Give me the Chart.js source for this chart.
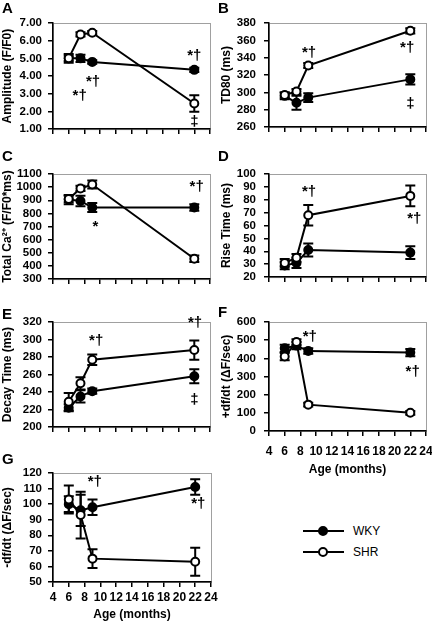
<!DOCTYPE html>
<html>
<head>
<meta charset="utf-8">
<script src="https://cdn.jsdelivr.net/npm/chart.js@4"></script>
<style>
  body { margin: 0; background: #fff; width: 432px; height: 622px; position: relative; overflow: hidden;
         font-family: Arial, "Liberation Sans", sans-serif; }
  canvas { position: absolute; }
  .letter { position: absolute; font-weight: bold; font-size: 15px; line-height: 15px; color: #000; }
  .key { position: absolute; left: 303px; width: 41px; height: 2px; background: #000; }
  .dot { position: absolute; left: 15px; top: -4px; width: 6px; height: 6px; border: 2px solid #000; border-radius: 50%; }
  .keytext { position: absolute; left: 353px; font-size: 12px; line-height: 14px; }
</style>
</head>
<body>
<canvas id="chartA" width="216" height="142" style="left:0;top:0"></canvas>
<canvas id="chartB" width="216" height="142" style="left:216px;top:0"></canvas>
<canvas id="chartC" width="216" height="142" style="left:0;top:150px"></canvas>
<canvas id="chartD" width="216" height="142" style="left:216px;top:150px"></canvas>
<canvas id="chartE" width="216" height="142" style="left:0;top:298px"></canvas>
<canvas id="chartF" width="216" height="182" style="left:216px;top:298px"></canvas>
<canvas id="chartG" width="240" height="173" style="left:0;top:449px"></canvas>

<div class="letter" style="left:2px;top:0">A</div>
<div class="letter" style="left:218px;top:0">B</div>
<div class="letter" style="left:2px;top:148px">C</div>
<div class="letter" style="left:218px;top:148px">D</div>
<div class="letter" style="left:2px;top:306px">E</div>
<div class="letter" style="left:218px;top:304px">F</div>
<div class="letter" style="left:2px;top:451px">G</div>

<div class="key" style="top:530px"><div class="dot" style="background:#000"></div></div>
<div class="keytext" style="top:524px">WKY</div>
<div class="key" style="top:551px"><div class="dot" style="background:#fff"></div></div>
<div class="keytext" style="top:545px">SHR</div>

<script>
const ages = [6, 7.5, 9, 22];

// A: amplitude
const wkyAmplitude = [5.0, 5.0, 4.8, 4.35];
const wkyAmplitudeErr = [0.25, 0.2, 0.1, 0.12];
const shrAmplitude = [5.0, 6.35, 6.45, 2.45];
const shrAmplitudeErr = [0.15, 0.12, 0.1, 0.47];

// B: TD80
const wkyTd80 = [296, 288, 294, 315];
const wkyTd80Err = [4, 8, 5, 6];
const shrTd80 = [297, 301, 331, 371];
const shrTd80Err = [3, 3, 3, 3];

// C: total Ca2+
const wkyTotalCa = [905, 895, 845, 845];
const wkyTotalCaErr = [35, 40, 35, 25];
const shrTotalCa = [910, 990, 1020, 455];
const shrTotalCaErr = [25, 20, 30, 25];

// D: rise time
const wkyRise = [29, 31, 41, 39];
const wkyRiseErr = [3, 4, 5, 5];
const shrRise = [31, 35, 68, 83];
const shrRiseErr = [3, 3, 8, 8];

// E: decay time
const wkyDecay = [222, 235, 241, 258];
const wkyDecayErr = [4, 7, 3, 8];
const shrDecay = [229, 250, 277, 288];
const shrDecayErr = [10, 7, 6, 11];

// F: +df/dt
const wkyUpRate = [455, 470, 440, 432];
const wkyUpRateErr = [20, 20, 15, 20];
const shrUpRate = [410, 490, 145, 100];
const shrUpRateErr = [20, 15, 10, 10];

// G: -df/dt
const wkyDownRate = [100, 96, 98, 111];
const wkyDownRateErr = [5, 10, 5, 5];
const shrDownRate = [103, 93, 65, 63];
const shrDownRateErr = [9, 15, 6, 9];

// significance marks (data units)
const notesA = [{x: 22, y: 5.13, t: "*†"}, {x: 9.1, y: 3.66, t: "*†"}, {x: 7.4, y: 2.87, t: "*†"}, {x: 22, y: 1.4, t: "‡"}];
const notesB = [{x: 9.1, y: 346, t: "*†"}, {x: 21.6, y: 351, t: "*†"}, {x: 22, y: 287, t: "‡"}];
const notesC = [{x: 9.4, y: 700, t: "*"}, {x: 22.3, y: 1004, t: "*†"}];
const notesD = [{x: 9.1, y: 86, t: "*†"}, {x: 22.5, y: 65, t: "*†"}];
const notesE = [{x: 9.5, y: 299, t: "*†"}, {x: 22.1, y: 319, t: "*†"}, {x: 22, y: 231, t: "‡"}];
const notesF = [{x: 9.2, y: 518, t: "*†"}, {x: 22.3, y: 326, t: "*†"}];
const notesG = [{x: 9.3, y: 114, t: "*†"}, {x: 22.4, y: 100, t: "*†"}];

const FONT = "Arial, 'Liberation Sans', sans-serif";

function points(ys) {
  return ys.map(function(y, i) { return {x: ages[i], y: y}; });
}

const framePlugin = {
  id: "frame",
  beforeDraw(chart) {
    const a = chart.chartArea;
    const ctx = chart.ctx;
    ctx.save();
    ctx.strokeStyle = "#a0a0a0";
    ctx.lineWidth = 1;
    ctx.strokeRect(a.left + 0.5, a.top + 0.5, a.right - a.left, a.bottom - a.top);
    ctx.restore();
  }
};

const errorBarPlugin = {
  id: "errorBars",
  beforeDatasetsDraw(chart) {
    const ctx = chart.ctx;
    const xs = chart.scales.x, ys = chart.scales.y;
    ctx.save();
    ctx.strokeStyle = "#000";
    ctx.lineWidth = 2;
    chart.data.datasets.forEach(function(ds) {
      ds.data.forEach(function(pt, i) {
        const err = ds.errors[i];
        const px = xs.getPixelForValue(pt.x);
        const top = ys.getPixelForValue(pt.y + err);
        const bot = ys.getPixelForValue(pt.y - err);
        ctx.beginPath();
        ctx.moveTo(px, top); ctx.lineTo(px, bot);
        ctx.moveTo(px - 5, top); ctx.lineTo(px + 5, top);
        ctx.moveTo(px - 5, bot); ctx.lineTo(px + 5, bot);
        ctx.stroke();
      });
    });
    ctx.restore();
  }
};

function notesPlugin(notes) {
  return {
    id: "notes",
    afterDatasetsDraw(chart) {
      const ctx = chart.ctx;
      ctx.save();
      ctx.fillStyle = "#000";
      ctx.font = "bold 15px " + FONT;
      ctx.textAlign = "center";
      ctx.textBaseline = "middle";
      notes.forEach(function(n) {
        ctx.fillText(n.t, chart.scales.x.getPixelForValue(n.x), chart.scales.y.getPixelForValue(n.y));
      });
      ctx.restore();
    }
  };
}

function makePanel(id, p) {
  new Chart(document.getElementById(id), {
    type: "scatter",
    data: {
      datasets: [
        {
          label: "SHR", data: points(p.shr), errors: p.shrErr, showLine: true,
          borderColor: "#000", borderWidth: 2, pointRadius: 4, pointBorderWidth: 2,
          pointBackgroundColor: "#fff", pointBorderColor: "#000"
        },
        {
          label: "WKY", data: points(p.wky), errors: p.wkyErr, showLine: true,
          borderColor: "#000", borderWidth: 2, pointRadius: 4, pointBorderWidth: 2,
          pointBackgroundColor: "#000", pointBorderColor: "#000"
        }
      ]
    },
    options: {
      responsive: false,
      animation: false,
      layout: { padding: { top: p.padTop, right: p.padRight, left: 0, bottom: 0 } },
      plugins: { legend: { display: false }, tooltip: { enabled: false } },
      scales: {
        x: {
          type: "linear", min: 4, max: 24,
          ticks: {
            stepSize: 2, display: p.showX, color: "#000", padding: p.xLabelPad || 0,
            maxRotation: 0, autoSkip: false,
            font: { family: FONT, size: 12, weight: "bold" }
          },
          grid: { drawOnChartArea: false, tickLength: 5, color: "#000", lineWidth: 1.5 },
          border: { color: "#000", width: 1.5 },
          title: {
            display: p.showX, text: "Age (months)", color: "#000",
            padding: { top: 0, bottom: p.xTitlePad || 0 },
            font: { family: FONT, size: 12, weight: "bold" }
          },
          afterFit: function(scale) {
            scale.height = p.xHeight;
            // let the last label run to the page edge instead of shrinking the plot
            scale.paddingRight = 0;
          }
        },
        y: {
          min: p.yMin, max: p.yMax,
          ticks: {
            stepSize: p.yStep, color: "#000", padding: p.yLabelPad, autoSkip: false,
            font: { family: FONT, size: 11.5, weight: "bold" },
            callback: function(v) { return v.toFixed(p.decimals || 0); }
          },
          grid: { drawOnChartArea: false, tickLength: 5, color: "#000", lineWidth: 1.5 },
          border: { color: "#000", width: 1.5 },
          title: {
            display: true, text: p.yTitle, color: "#000",
            padding: { top: p.yTitlePad, bottom: 0 },
            font: { family: FONT, size: 12, weight: "bold" }
          },
          afterFit: function(scale) { scale.width = 53; }
        }
      }
    },
    plugins: [framePlugin, errorBarPlugin, notesPlugin(p.notes)]
  });
}

const leftCol = { padRight: 5, yLabelPad: 6, yTitlePad: 0 };
const rightCol = { padRight: 6, yLabelPad: 8, yTitlePad: 3.6 };

makePanel("chartA", Object.assign({}, leftCol, {
  yMin: 1, yMax: 7, yStep: 1, decimals: 2, yTitle: "Amplitude (F/F0)",
  wky: wkyAmplitude, wkyErr: wkyAmplitudeErr, shr: shrAmplitude, shrErr: shrAmplitudeErr,
  notes: notesA, showX: false, padTop: 23, xHeight: 10
}));
makePanel("chartB", Object.assign({}, rightCol, {
  yMin: 260, yMax: 380, yStep: 20, yTitle: "TD80 (ms)",
  wky: wkyTd80, wkyErr: wkyTd80Err, shr: shrTd80, shrErr: shrTd80Err,
  notes: notesB, showX: false, padTop: 23, xHeight: 10
}));
makePanel("chartC", Object.assign({}, leftCol, {
  yMin: 300, yMax: 1100, yStep: 100, yTitle: "Total Ca²⁺ (F/F0*ms)",
  wky: wkyTotalCa, wkyErr: wkyTotalCaErr, shr: shrTotalCa, shrErr: shrTotalCaErr,
  notes: notesC, showX: false, padTop: 24, xHeight: 9
}));
makePanel("chartD", Object.assign({}, rightCol, {
  yMin: 20, yMax: 100, yStep: 10, yTitle: "Rise Time (ms)",
  wky: wkyRise, wkyErr: wkyRiseErr, shr: shrRise, shrErr: shrRiseErr,
  notes: notesD, showX: false, padTop: 24, xHeight: 9
}));
makePanel("chartE", Object.assign({}, leftCol, {
  yMin: 200, yMax: 320, yStep: 20, yTitle: "Decay Time (ms)",
  wky: wkyDecay, wkyErr: wkyDecayErr, shr: shrDecay, shrErr: shrDecayErr,
  notes: notesE, showX: false, padTop: 24, xHeight: 9
}));
makePanel("chartF", Object.assign({}, rightCol, {
  yMin: 0, yMax: 600, yStep: 100, yTitle: "+df/dt (ΔF/sec)",
  wky: wkyUpRate, wkyErr: wkyUpRateErr, shr: shrUpRate, shrErr: shrUpRateErr,
  notes: notesF, showX: true, padTop: 24, xHeight: 49, xLabelPad: 8.5, xTitlePad: 2.8
}));
makePanel("chartG", Object.assign({}, leftCol, {
  yMin: 50, yMax: 120, yStep: 10, yTitle: "-df/dt (ΔF/sec)",
  wky: wkyDownRate, wkyErr: wkyDownRateErr, shr: shrDownRate, shrErr: shrDownRateErr,
  notes: notesG, showX: true, padTop: 24, padRight: 29, xHeight: 40, xLabelPad: 3, xTitlePad: 0
}));
</script>
</body>
</html>
